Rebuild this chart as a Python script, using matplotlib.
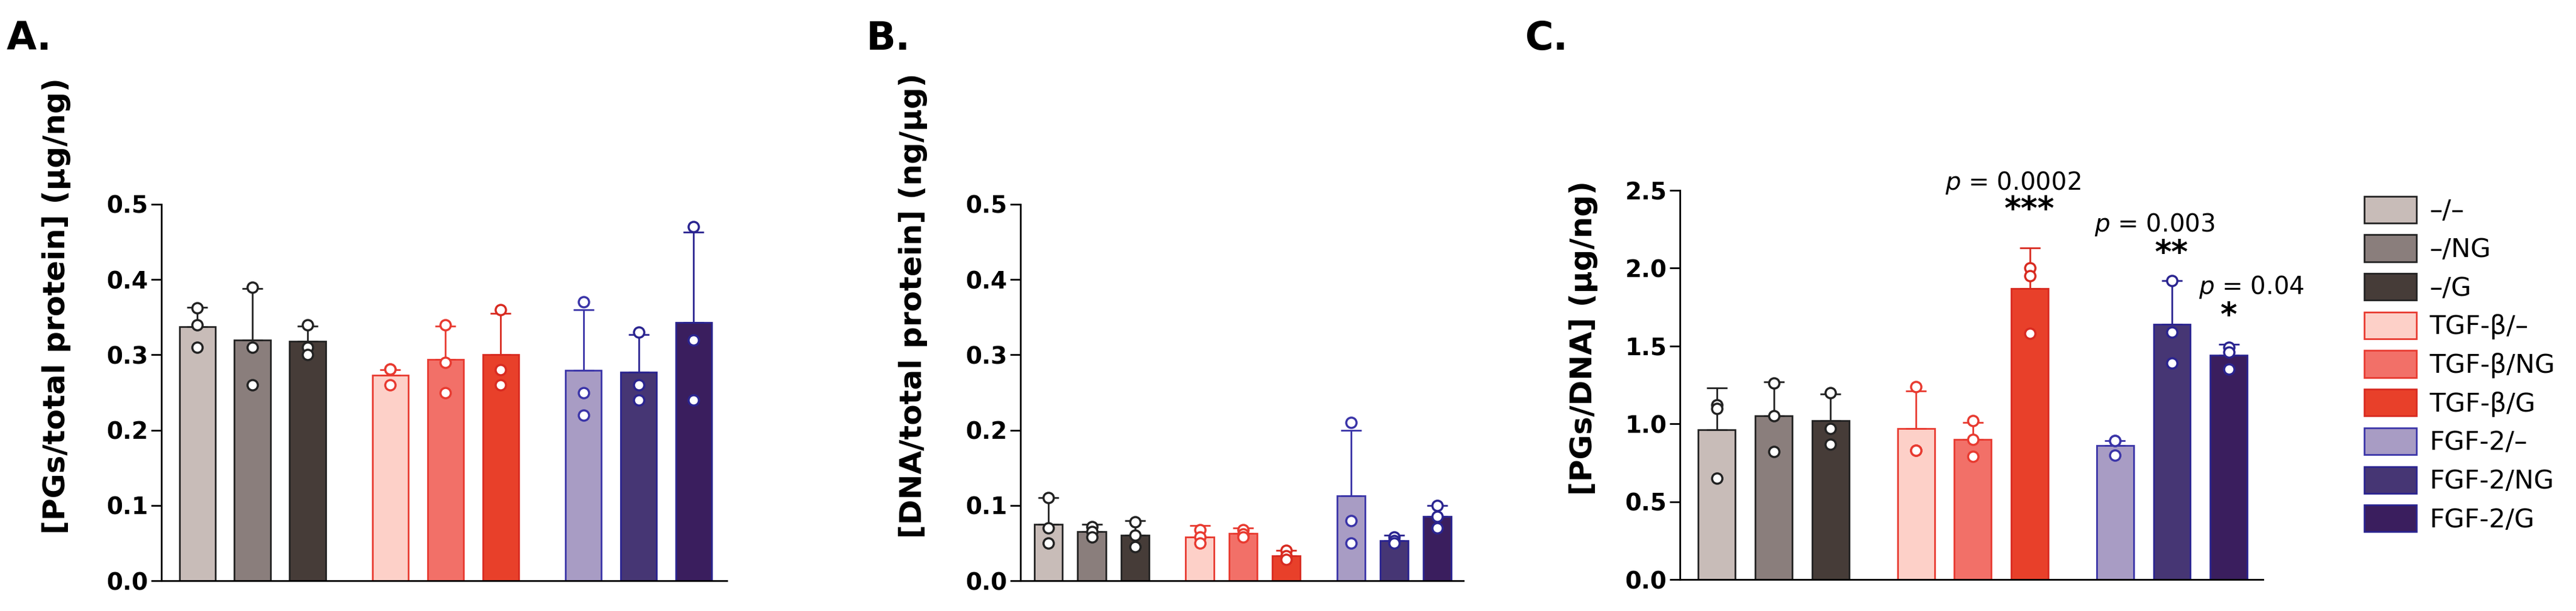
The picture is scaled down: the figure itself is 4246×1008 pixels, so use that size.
import matplotlib
matplotlib.use("Agg")
import matplotlib.pyplot as plt
import numpy as np
from matplotlib.patches import Patch

groups = ["–/–", "–/NG", "–/G", "TGF-β/–", "TGF-β/NG", "TGF-β/G", "FGF-2/–", "FGF-2/NG", "FGF-2/G"]
fill_colors = ["#c8bcb8", "#8a7e7c", "#463c38", "#fdd0c8", "#f27068", "#e8402a", "#a89cc4", "#463674", "#3a1e5e"]
edge_colors = ["#222222", "#222222", "#222222", "#e83a30", "#e83a30", "#d82a20", "#3a34a8", "#2a2490", "#2a2490"]

a_mean = [0.337, 0.320, 0.318, 0.273, 0.294, 0.300, 0.279, 0.277, 0.343]
a_err = [0.026, 0.068, 0.020, 0.007, 0.044, 0.055, 0.081, 0.050, 0.120]
a_pts = [[0.362, 0.340, 0.310], [0.390, 0.310, 0.260], [0.340, 0.310, 0.300],
         [0.281, 0.260, 0.281], [0.340, 0.290, 0.250], [0.360, 0.280, 0.260],
         [0.370, 0.250, 0.220], [0.330, 0.260, 0.240], [0.470, 0.320, 0.240]]

b_mean = [0.075, 0.065, 0.060, 0.058, 0.063, 0.033, 0.113, 0.053, 0.085]
b_err = [0.035, 0.010, 0.020, 0.015, 0.007, 0.007, 0.087, 0.007, 0.015]
b_pts = [[0.110, 0.070, 0.050], [0.072, 0.065, 0.058], [0.078, 0.060, 0.045],
         [0.068, 0.058, 0.050], [0.068, 0.062, 0.058], [0.040, 0.033, 0.028],
         [0.210, 0.080, 0.050], [0.058, 0.053, 0.050], [0.100, 0.085, 0.070]]

c_mean = [0.96, 1.05, 1.02, 0.97, 0.90, 1.87, 0.86, 1.64, 1.44]
c_err = [0.27, 0.22, 0.17, 0.24, 0.11, 0.26, 0.03, 0.28, 0.07]
c_pts = [[1.12, 1.10, 0.65], [1.26, 1.05, 0.82], [1.20, 0.97, 0.87],
         [1.24, 0.83, 0.83], [1.02, 0.90, 0.79], [2.00, 1.95, 1.58],
         [0.89, 0.89, 0.80], [1.92, 1.59, 1.39], [1.49, 1.46, 1.35]]
c_ann = {5: ("0.0002", "***"), 7: ("0.003", "**"), 8: ("0.04", "*")}

ylabels = ["[PGs/total protein] (µg/ng)", "[DNA/total protein] (ng/µg)", "[PGs/DNA] (µg/ng)"]
ylims = [0.5, 0.5, 2.5]
yticks = [np.arange(0, 0.51, 0.1), np.arange(0, 0.51, 0.1), np.arange(0, 2.51, 0.5)]
letters = ["A.", "B.", "C."]

W, H = 4246, 1008
fig = plt.figure(figsize=(W / 100, H / 100), dpi=100)
boxes = [(266, 1198, 337, 958), (1682, 2412, 337, 958), (2769, 3730, 314, 956)]
xpos = np.array([0, 1, 2, 3.5, 4.5, 5.5, 7, 8, 9])
jit = np.array([0.0, -0.0, 0.0])
for k, (m, e, pts) in enumerate([(a_mean, a_err, a_pts), (b_mean, b_err, b_pts), (c_mean, c_err, c_pts)]):
    x0, x1, yt, yb = boxes[k]
    ax = fig.add_axes([x0 / W, 1 - yb / H, (x1 - x0) / W, (yb - yt) / H])
    for i in range(9):
        ax.bar(xpos[i], m[i], width=0.65, color=fill_colors[i], edgecolor=edge_colors[i], linewidth=2, zorder=2)
        ax.errorbar(xpos[i], m[i], yerr=[[0], [e[i]]], color=edge_colors[i], capsize=12, elinewidth=2, capthick=2, zorder=3)
        ax.scatter(xpos[i] + jit, pts[i], s=150, facecolor="white", edgecolor=edge_colors[i], linewidth=2.5, zorder=4)
    ax.set_xlim(-0.65, 9.6)
    ax.set_ylim(0, ylims[k])
    ax.set_yticks(yticks[k])
    ax.set_yticklabels(["{:.1f}".format(v) for v in yticks[k]], fontsize=28, fontweight="bold")
    ax.set_xticks([])
    for s in ["top", "right"]:
        ax.spines[s].set_visible(False)
    ax.spines["left"].set_linewidth(2)
    ax.spines["bottom"].set_linewidth(2)
    ax.tick_params(axis="y", width=2, length=12)
    ax.set_ylabel(ylabels[k], fontsize=36, fontweight="bold")
    ax.yaxis.set_label_coords(-0.16 if k == 0 else (-0.21 if k == 1 else -0.14), 0.73 if k < 2 else 0.62)
    fig.text((x0 - 255) / W, 1 - 64 / H, letters[k], fontsize=46, fontweight="bold", va="center")
    if k == 2:
        for i, (p, st) in c_ann.items():
            if i == 5:
                ystar, yp = 2.37, 2.55
            elif i == 7:
                ystar, yp = 2.09, 2.28
            else:
                ystar, yp = 1.69, 1.88
            ax.text(xpos[i], ystar, st, ha="center", va="center", fontsize=38, fontweight="bold", clip_on=False)
            ax.text(xpos[i] + (-0.3 if i != 8 else 0.4), yp, "$p$ = " + p, ha="center", va="center", fontsize=29, clip_on=False)

handles = [Patch(facecolor=fill_colors[i], edgecolor=edge_colors[i] if i >= 3 else "#222222", linewidth=2) for i in range(9)]
fig.legend(handles, groups, loc="upper left", bbox_to_anchor=(3858 / W, 1 - 285 / H), frameon=False,
           fontsize=31, handlelength=2.0, handleheight=1.2, labelspacing=0.42, handletextpad=0.5)
fig.savefig("out.png", dpi=100)
